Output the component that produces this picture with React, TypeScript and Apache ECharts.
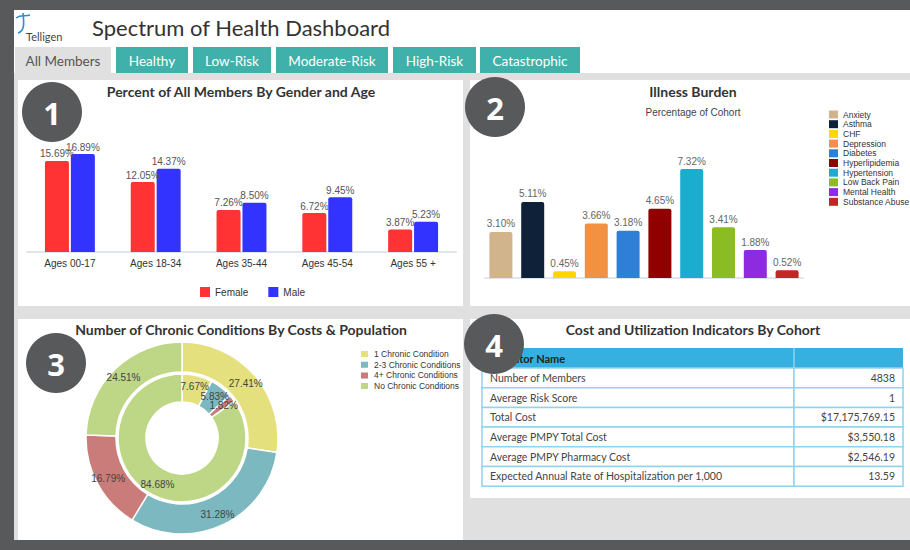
import React, { useEffect, useRef } from "react";
import * as echarts from "echarts";

// ---------- data ----------
const ageGroups = ["Ages 00-17", "Ages 18-34", "Ages 35-44", "Ages 45-54", "Ages 55 +"];
const femalePct = [15.69, 12.05, 7.26, 6.72, 3.87];
const malePct = [16.89, 14.37, 8.5, 9.45, 5.23];

const illnesses = ["Anxiety", "Asthma", "CHF", "Depression", "Diabetes", "Hyperlipidemia", "Hypertension", "Low Back Pain", "Mental Health", "Substance Abuse"];
const illnessPct = [3.1, 5.11, 0.45, 3.66, 3.18, 4.65, 7.32, 3.41, 1.88, 0.52];
const illnessColors = ["#d2b48c", "#0f2139", "#ffd700", "#f39143", "#2f7ed8", "#910000", "#1aadce", "#8bbc21", "#8e2be0", "#c42525"];

const conditionGroups = ["1 Chronic Condition", "2-3 Chronic Conditions", "4+ Chronic Conditions", "No Chronic Conditions"];
const costPct = [27.41, 31.28, 16.79, 24.51];
const populationPct = [7.67, 5.83, 1.82, 84.68];
const conditionColors = ["#e5e07e", "#7bb8bf", "#c97c7a", "#bdd786"];

const indicatorNames = [
  "Number of Members",
  "Average Risk Score",
  "Total Cost",
  "Average PMPY Total Cost",
  "Average PMPY Pharmacy Cost",
  "Expected Annual Rate of Hospitalization per 1,000",
];
const indicatorValues = ["4838", "1", "$17,175,769.15", "$3,550.18", "$2,546.19", "13.59"];

const tabs = ["All Members", "Healthy", "Low-Risk", "Moderate-Risk", "High-Risk", "Catastrophic"];

// ---------- layout ----------
const tabLayout = [
  [15, 96],
  [116, 72],
  [193, 78],
  [276, 112],
  [393, 83],
  [480, 100],
];
const panels = [
  [18, 80, 445, 226],
  [470, 80, 440, 226],
  [18, 319, 445, 221],
  [470, 319, 440, 179],
];
const badges = [
  [52, 112, "1"],
  [495, 107, "2"],
  [56, 363, "3"],
  [494, 344, "4"],
];

const DARK = "#58595b";
const TEAL = "#3fb1aa";
const UI_FONT = "Lato";
const CHART_FONT = "Liberation Sans";

function buildGraphics() {
  const g: any[] = [];
  g.push({ type: "rect", shape: { x: 0, y: 0, width: 910, height: 550 }, style: { fill: DARK }, z: -20 });
  g.push({ type: "rect", shape: { x: 14, y: 10, width: 896, height: 530 }, style: { fill: "#e0e0e0" }, z: -19 });
  g.push({ type: "rect", shape: { x: 14, y: 10, width: 896, height: 63 }, style: { fill: "#ffffff" }, z: -18 });
  tabs.forEach((t, i) => {
    const [x, w] = tabLayout[i];
    const active = i === 0;
    g.push({ type: "rect", shape: { x, y: 47, width: w, height: 26 }, style: { fill: active ? "#e0e0e0" : TEAL }, z: -17 });
    g.push({
      type: "text",
      x: x + w / 2,
      y: 61,
      style: { text: t, fill: active ? "#555" : "#ffffff", font: `13.5px ${UI_FONT}`, textAlign: "center", textVerticalAlign: "middle", verticalAlign: "middle" },
      z: -16,
    });
  });
  panels.forEach(([x, y, w, h]) => {
    g.push({ type: "rect", shape: { x, y, width: w, height: h }, style: { fill: "#ffffff" }, z: -15 });
  });
  // logo
  g.push({ type: "bezierCurve", shape: { x1: 16, y1: 18, x2: 30, y2: 15, cpx1: 21, cpy1: 14, cpx2: 25, cpy2: 17 }, style: { stroke: "#2b8fcf", lineWidth: 1.6, fill: null }, z: -10 });
  g.push({ type: "bezierCurve", shape: { x1: 23, y1: 13, x2: 18, y2: 33, cpx1: 24, cpy1: 22, cpx2: 25, cpy2: 31 }, style: { stroke: "#2b8fcf", lineWidth: 1.6, fill: null }, z: -10 });
  g.push({ type: "text", x: 26, y: 36, style: { text: "Telligen", fill: "#444", font: `11px ${UI_FONT}`, textVerticalAlign: "middle", verticalAlign: "middle" }, z: -10 });
  g.push({ type: "text", x: 92, y: 27, style: { text: "Spectrum of Health Dashboard", fill: "#333", font: `22px ${UI_FONT}`, textVerticalAlign: "middle", verticalAlign: "middle" }, z: -10 });

  // table
  const tx = 482, tw = 421, colX = 794, headTop = 348, headH = 20, rowH = 19.7;
  g.push({ type: "rect", shape: { x: tx, y: headTop, width: tw, height: headH }, style: { fill: "#35b0e0" }, z: 10 });
  g.push({ type: "line", shape: { x1: colX, y1: headTop, x2: colX, y2: headTop + headH }, style: { stroke: "#8fd3ef", lineWidth: 1.5 }, z: 11 });
  g.push({ type: "text", x: 490, y: headTop + headH / 2, style: { text: "Indicator Name", fill: "#222", font: `bold 11px ${UI_FONT}`, textVerticalAlign: "middle", verticalAlign: "middle" }, z: 11 });
  indicatorNames.forEach((name, i) => {
    const y = headTop + headH + i * rowH;
    g.push({ type: "rect", shape: { x: tx, y, width: colX - tx, height: rowH }, style: { fill: "#ffffff", stroke: "#8fd3ef", lineWidth: 1.5 }, z: 10 });
    g.push({ type: "rect", shape: { x: colX, y, width: tx + tw - colX, height: rowH }, style: { fill: "#ffffff", stroke: "#8fd3ef", lineWidth: 1.5 }, z: 10 });
    g.push({ type: "text", x: 490, y: y + rowH / 2, style: { text: name, fill: "#444", font: `10.5px ${UI_FONT}`, textVerticalAlign: "middle", verticalAlign: "middle" }, z: 11 });
    g.push({ type: "text", x: 895, y: y + rowH / 2, style: { text: indicatorValues[i], fill: "#444", font: `10.5px ${UI_FONT}`, textAlign: "right", textVerticalAlign: "middle", verticalAlign: "middle" }, z: 11 });
  });

  badges.forEach(([cx, cy, label]) => {
    g.push({ type: "circle", shape: { cx, cy, r: 30 }, style: { fill: DARK }, z: 100 });
    g.push({ type: "text", x: cx, y: (cy as number) + 1, style: { text: label, fill: "#ffffff", font: `bold 31px "Open Sans"`, textAlign: "center", textVerticalAlign: "middle", verticalAlign: "middle" }, z: 101 });
  });
  return g;
}

const pctLabel = (p: any) => (typeof p.value === "number" ? p.value.toFixed(2) + "%" : "");

function buildOption(): any {
  const titleStyle = { fontFamily: UI_FONT, fontWeight: "bold", fontSize: 14, color: "#333" };
  const legendText = { fontFamily: CHART_FONT, fontSize: 8.5, color: "#333", lineHeight: 9 };
  return {
    animation: false,
    graphic: { elements: buildGraphics() },
    title: [
      { text: "Percent of All Members By Gender and Age", left: 241, top: 84, textAlign: "center", padding: 0, textStyle: titleStyle },
      { text: "Illness Burden", left: 693, top: 84, textAlign: "center", padding: 0, textStyle: titleStyle },
      { text: "Percentage of Cohort", left: 693, top: 107, textAlign: "center", padding: 0, textStyle: { fontFamily: CHART_FONT, fontSize: 10, fontWeight: "normal", color: "#444" } },
      { text: "Number of Chronic Conditions By Costs & Population", left: 241, top: 322, textAlign: "center", padding: 0, textStyle: titleStyle },
      { text: "Cost and Utilization Indicators By Cohort", left: 693, top: 322, textAlign: "center", padding: 0, textStyle: titleStyle },
    ],
    legend: [
      {
        data: ["Female", "Male"],
        left: 200,
        top: 287,
        padding: 0,
        itemWidth: 10,
        itemHeight: 10,
        itemGap: 20,
        icon: "rect",
        textStyle: { fontFamily: CHART_FONT, fontSize: 10, color: "#333" },
      },
      {
        data: illnesses,
        orient: "vertical",
        left: 829,
        top: 110,
        padding: 0,
        itemWidth: 9,
        itemHeight: 8,
        itemGap: 0.7,
        icon: "rect",
        textStyle: legendText,
      },
      {
        data: conditionGroups,
        orient: "vertical",
        left: 359,
        top: 349,
        padding: 0,
        itemWidth: 9,
        itemHeight: 8,
        itemGap: 0.7,
        icon: "rect",
        textStyle: legendText,
      },
    ],
    grid: [
      { left: 27, top: 136, width: 429, height: 116 },
      { left: 485, top: 159, width: 318, height: 119 },
    ],
    xAxis: [
      {
        gridIndex: 0,
        type: "category",
        data: ageGroups,
        axisLine: { lineStyle: { color: "#dfe6ee", width: 2 } },
        axisTick: { show: false },
        axisLabel: { fontFamily: CHART_FONT, fontSize: 10, color: "#333", margin: 6 },
      },
      {
        gridIndex: 1,
        type: "category",
        data: illnesses,
        axisLine: { lineStyle: { color: "#dfe6ee", width: 2 } },
        axisTick: { show: false },
        axisLabel: { show: false },
      },
    ],
    yAxis: [
      { gridIndex: 0, type: "value", min: 0, max: 20, show: false, splitLine: { show: false } },
      { gridIndex: 1, type: "value", min: 0, max: 8, show: false, splitLine: { show: false } },
    ],
    series: [
      {
        name: "Female",
        type: "bar",
        xAxisIndex: 0,
        yAxisIndex: 0,
        data: femalePct,
        barWidth: 24,
        barGap: "8%",
        itemStyle: { color: "#ff3333", borderRadius: [2, 2, 0, 0] },
        label: { show: true, position: "top", distance: 2, formatter: pctLabel, fontFamily: CHART_FONT, fontSize: 10, color: "#555" },
      },
      {
        name: "Male",
        type: "bar",
        xAxisIndex: 0,
        yAxisIndex: 0,
        data: malePct,
        barWidth: 24,
        barGap: "8%",
        itemStyle: { color: "#3333ff", borderRadius: [2, 2, 0, 0] },
        label: { show: true, position: "top", distance: 2, formatter: pctLabel, fontFamily: CHART_FONT, fontSize: 10, color: "#555" },
      },
      ...illnesses.map((name, i) => ({
        name,
        type: "bar",
        xAxisIndex: 1,
        yAxisIndex: 1,
        stack: "illness",
        barWidth: 23,
        data: illnessPct.map((v, j) => (j === i ? v : "-")),
        itemStyle: { color: illnessColors[i], borderRadius: [2, 2, 0, 0] },
        label: { show: true, position: "top", distance: 3, formatter: pctLabel, fontFamily: CHART_FONT, fontSize: 10, color: "#666" },
      })),
      {
        name: "Costs",
        type: "pie",
        center: [182, 438],
        radius: [66, 96],
        startAngle: 90,
        clockwise: true,
        avoidLabelOverlap: false,
        labelLayout: { hideOverlap: false },
        data: conditionGroups.map((n, i) => ({ name: n, value: costPct[i], itemStyle: { color: conditionColors[i] } })),
        itemStyle: { borderColor: "#ffffff", borderWidth: 1.5 },
        label: { show: true, position: "inside", formatter: pctLabel, fontFamily: CHART_FONT, fontSize: 10, color: "#444" },
        labelLine: { show: false },
      },
      {
        name: "Population",
        type: "pie",
        center: [182, 438],
        radius: [36, 64],
        startAngle: 90,
        clockwise: true,
        avoidLabelOverlap: false,
        labelLayout: { hideOverlap: false },
        data: conditionGroups.map((n, i) => ({ name: n, value: populationPct[i], itemStyle: { color: conditionColors[i] } })),
        itemStyle: { borderColor: "#ffffff", borderWidth: 1.5 },
        label: { show: true, position: "inside", formatter: pctLabel, fontFamily: CHART_FONT, fontSize: 10, color: "#444" },
        labelLine: { show: false },
      },
    ],
  };
}

export default function App() {
  const ref = useRef<HTMLDivElement>(null);
  useEffect(() => {
    if (!ref.current) return;
    const chart = echarts.init(ref.current, undefined, { renderer: "svg" });
    chart.setOption(buildOption());
    return () => chart.dispose();
  }, []);
  return <div ref={ref} style={{ position: "absolute", left: 0, top: 0, width: 910, height: 550 }} />;
}
